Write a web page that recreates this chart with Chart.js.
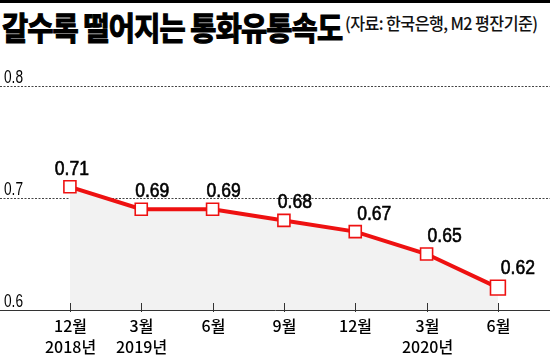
<!DOCTYPE html>
<html>
<head>
<meta charset="utf-8">
<script src="https://cdn.jsdelivr.net/npm/chart.js@4.4.1/dist/chart.umd.min.js"></script>
<style>
  html, body { margin: 0; padding: 0; background: #fff; }
  #wrap { position: relative; width: 550px; height: 357px; overflow: hidden; }
  #bar { position: absolute; left: 0; top: 0; width: 550px; height: 3px; background: #000; }
  #title { position: absolute; left: 2px; top: 3px; white-space: nowrap; transform-origin: 0 0;
    transform: scaleX(0.89); font-family: "Noto Sans CJK KR", sans-serif; font-weight: 700;
    font-size: 32px; line-height: 46px; color: #000; letter-spacing: -1px;
    -webkit-text-stroke: 1.2px #000; }
  #sub { position: absolute; left: 345px; top: 10px; white-space: nowrap; transform-origin: 0 0;
    transform: scaleX(0.95); font-family: "Noto Sans CJK KR", sans-serif; font-weight: 500;
    font-size: 17px; line-height: 26px; color: #111; letter-spacing: -0.6px; }
  canvas { position: absolute; left: 0; top: 0; }
</style>
</head>
<body>
<div id="wrap">
  <div id="bar"></div>
  <div id="title">갈수록 떨어지는 통화유통속도</div>
  <div id="sub">(자료: 한국은행, M2 평잔기준)</div>
  <canvas id="c" width="550" height="357"></canvas>
</div>
<script>
const categories = [["12월", "2018년"], ["3월", "2019년"], ["6월", ""], ["9월", ""], ["12월", ""], ["3월", "2020년"], ["6월", ""]];
const velocity = [0.71, 0.69, 0.69, 0.68, 0.67, 0.65, 0.62];
const yTicks = [0.6, 0.7, 0.8];

const labelDx = [2, 11, 11, 11, 19, 18, 20];
const RED = '#ee1111';

const decor = {
  id: 'decor',
  beforeDatasetsDraw(chart) {
    const ctx = chart.ctx;
    const ys = chart.scales.y;
    ctx.save();
    ctx.strokeStyle = '#444';
    ctx.lineWidth = 1;
    ctx.setLineDash([2, 1.5]);
    yTicks.forEach(v => {
      if (v === ys.min) return;
      const y = Math.round(ys.getPixelForValue(v)) + 0.5;
      ctx.beginPath();
      ctx.moveTo(0, y);
      ctx.lineTo(chart.width, y);
      ctx.stroke();
    });
    ctx.restore();
  },
  afterDatasetsDraw(chart) {
    const ctx = chart.ctx;
    const xs = chart.scales.x, ys = chart.scales.y;
    ctx.save();
    ctx.fillStyle = '#000';
    ctx.font = '18px "Liberation Sans", Arial, sans-serif';
    ctx.textAlign = 'left';
    ctx.textBaseline = 'alphabetic';
    yTicks.forEach(v => {
      const y = ys.getPixelForValue(v);
      ctx.save();
      ctx.translate(4, y - 3.5);
      ctx.scale(0.76, 1);
      ctx.fillText(v.toFixed(1), 0, 0);
      ctx.restore();
    });
    ctx.restore();
    ctx.save();
    ctx.strokeStyle = '#333';
    ctx.lineWidth = 1;
    const bottom = chart.chartArea.bottom;
    categories.forEach((lab, i) => {
      const x = Math.round(xs.getPixelForValue(i)) + 0.5;
      ctx.beginPath();
      ctx.moveTo(x, bottom - 7);
      ctx.lineTo(x, bottom + 2);
      ctx.stroke();
      ctx.fillStyle = '#000';
      ctx.font = '500 16px "Noto Sans CJK KR", sans-serif';
      ctx.textAlign = 'center';
      ctx.textBaseline = 'middle';
      ctx.fillText(lab[0], x, bottom + 16);
      if (lab[1]) ctx.fillText(lab[1], x, bottom + 37);
    });
    ctx.restore();
  },
  afterDraw(chart) {
    const ctx = chart.ctx;
    const meta = chart.getDatasetMeta(0);
    ctx.save();
    ctx.fillStyle = '#000';
    ctx.strokeStyle = '#000';
    ctx.lineWidth = 0.6;
    ctx.font = '19.5px "Liberation Sans", Arial, sans-serif';
    ctx.textAlign = 'center';
    ctx.textBaseline = 'alphabetic';
    meta.data.forEach((pt, i) => {
      const last = i === meta.data.length - 1;
      ctx.save();
      ctx.translate(pt.x + labelDx[i], pt.y - (last ? 14 : 12));
      ctx.scale(0.9, 1);
      const t = velocity[i].toFixed(2);
      ctx.fillText(t, 0, 0);
      ctx.strokeText(t, 0, 0);
      ctx.restore();
    });
    ctx.restore();
  }
};

new Chart(document.getElementById('c'), {
  type: 'line',
  data: {
    datasets: [{
      data: velocity.map((v, i) => ({ x: i, y: v })),
      borderColor: RED,
      borderWidth: 4,
      backgroundColor: '#f2f2f2',
      fill: 'start',
      tension: 0,
      pointStyle: 'rect',
      pointRadius: velocity.map((v, i) => i === velocity.length - 1 ? 10.5 : 8.5),
      pointBackgroundColor: '#ffffff',
      pointBorderColor: RED,
      pointBorderWidth: 1.6,
      pointHoverRadius: 8.5
    }]
  },
  options: {
    responsive: false,
    animation: false,
    events: [],
    layout: { autoPadding: false, padding: { top: 86, bottom: 47, left: 0, right: 0 } },
    plugins: { legend: { display: false }, tooltip: { enabled: false }, title: { display: false } },
    scales: {
      x: {
        type: 'linear', min: -0.98, max: 6.73,
        ticks: { display: false },
        grid: { display: true, drawOnChartArea: false, drawTicks: false },
        border: { display: true, color: '#333', width: 1 }
      },
      y: {
        display: false,
        min: 0.6, max: 0.8
      }
    }
  },
  plugins: [decor]
});
</script>
</body>
</html>
